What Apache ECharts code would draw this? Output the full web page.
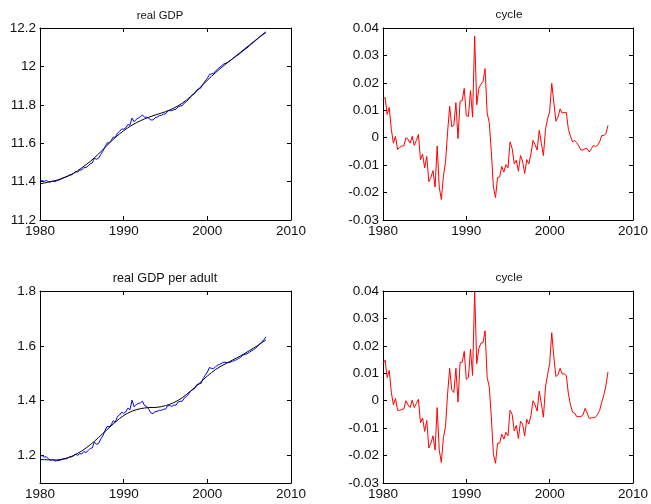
<!DOCTYPE html>
<html>
<head>
<meta charset="utf-8">
<title>real GDP and cycle</title>
<script src="https://cdn.jsdelivr.net/npm/echarts@6/dist/echarts.min.js"></script>
<style>
  html, body { margin: 0; padding: 0; background: #fff; }
  #chart { width: 651px; height: 504px; }
</style>
</head>
<body>
<div id="chart"></div>
<script>
// Years covered by the quarterly sample (1980Q1 .. 2007Q1)
const years = [1980, 1981, 1982, 1983, 1984, 1985, 1986, 1987, 1988, 1989,
  1990, 1991, 1992, 1993, 1994, 1995, 1996, 1997, 1998, 1999,
  2000, 2001, 2002, 2003, 2004, 2005, 2006, 2007];

// Log real GDP, quarterly
const gdpSeries = [
  11.402, 11.405, 11.401, 11.406,  11.400, 11.398, 11.403, 11.400,
  11.404, 11.408, 11.412, 11.419,  11.423, 11.426, 11.434, 11.435,
  11.442, 11.451, 11.450, 11.459,  11.461, 11.473, 11.473, 11.482,
  11.493, 11.497, 11.522, 11.516,  11.522, 11.541, 11.557, 11.579,
  11.600, 11.603, 11.614, 11.632,  11.630, 11.652, 11.661, 11.674,
  11.673, 11.680, 11.697, 11.694,  11.731, 11.712, 11.724, 11.731,
  11.738, 11.747, 11.735, 11.736,  11.730, 11.721, 11.721, 11.732,
  11.736, 11.743, 11.745, 11.751,  11.753, 11.768, 11.770, 11.769,
  11.775, 11.777, 11.789, 11.794,  11.795, 11.809, 11.816, 11.828,
  11.842, 11.851, 11.859, 11.877,  11.882, 11.889, 11.909, 11.924,
  11.938, 11.958, 11.961, 11.964,  11.976, 11.988, 11.996, 12.005,
  12.014, 12.017, 12.023, 12.030,  12.039, 12.047, 12.055, 12.062,
  12.071, 12.080, 12.089, 12.096,  12.106, 12.116, 12.124, 12.133,
  12.144, 12.154, 12.163, 12.172,  12.180
];
// HP trend of log real GDP, at each year start
const gdpTrend = [
  11.388, 11.397, 11.407, 11.423, 11.443, 11.472, 11.505, 11.544, 11.588, 11.630,
  11.665, 11.694, 11.717, 11.735, 11.750, 11.764, 11.783, 11.808, 11.843, 11.884,
  11.928, 11.968, 12.005, 12.040, 12.075, 12.110, 12.145, 12.176
];
// Cyclical component of log real GDP
const gdpCycle = [
  0.0139, 0.0147, 0.0085, 0.0110,  0.0030, -0.0020, 0.0005, -0.0043,
  -0.0035, -0.0030, -0.0030, 0.0000,  -0.0005, -0.0020, 0.0005, -0.0028,
  -0.0010, 0.0012, -0.0080, -0.0060,  -0.0110, -0.0068, -0.0160, -0.0145,
  -0.0120, -0.0180, -0.0030, -0.0180,  -0.0225, -0.0140, -0.0090, 0.0020,
  0.0115, 0.0040, 0.0045, 0.0128,  -0.0003, 0.0133, 0.0135, 0.0180,
  0.0080, 0.0078, 0.0172, 0.0075,  0.0370, 0.0120, 0.0180, 0.0195,
  0.0205, 0.0252, 0.0090, 0.0055,  -0.0050, -0.0180, -0.0218, -0.0145,
  -0.0143, -0.0105, -0.0125, -0.0098,  -0.0110, -0.0015, -0.0040, -0.0095,
  -0.0082, -0.0122, -0.0065, -0.0085,  -0.0130, -0.0080, -0.0095, -0.0060,
  -0.0010, -0.0025, -0.0045, 0.0027,  -0.0020, -0.0065, 0.0030, 0.0070,
  0.0095, 0.0198, 0.0130, 0.0060,  0.0075, 0.0105, 0.0090, 0.0092,
  0.0092, 0.0030, 0.0005, -0.0015,  -0.0010, -0.0018, -0.0030, -0.0045,
  -0.0045, -0.0040, -0.0040, -0.0052,  -0.0040, -0.0028, -0.0032, -0.0028,
  -0.0015, 0.0008, 0.0008, 0.0015,  0.0045
];

// Real GDP per adult, quarterly
const perAdultSeries = [
  1.199, 1.200, 1.194, 1.196,  1.188, 1.183, 1.185, 1.181,
  1.181, 1.182, 1.184, 1.188,  1.188, 1.189, 1.195, 1.195,
  1.199, 1.205, 1.201, 1.207,  1.206, 1.215, 1.211, 1.218,
  1.226, 1.228, 1.250, 1.241,  1.244, 1.260, 1.271, 1.290,
  1.306, 1.305, 1.311, 1.327,  1.322, 1.342, 1.348, 1.358,
  1.354, 1.359, 1.373, 1.367,  1.402, 1.378, 1.386, 1.390,
  1.392, 1.398, 1.382, 1.379,  1.369, 1.356, 1.353, 1.360,
  1.361, 1.365, 1.365, 1.369,  1.369, 1.381, 1.383, 1.379,
  1.384, 1.384, 1.395, 1.398,  1.398, 1.410, 1.415, 1.424,
  1.435, 1.440, 1.445, 1.459,  1.461, 1.463, 1.481, 1.493,
  1.504, 1.521, 1.518, 1.517,  1.524, 1.530, 1.533, 1.537,
  1.541, 1.539, 1.539, 1.540,  1.544, 1.546, 1.550, 1.554,
  1.559, 1.566, 1.569, 1.571,  1.576, 1.581, 1.586, 1.591,
  1.598, 1.606, 1.614, 1.622,  1.633
];
// HP trend of real GDP per adult, at each year start
const perAdultTrend = [
  1.1855, 1.1845, 1.184, 1.189, 1.200, 1.217, 1.239, 1.266, 1.294, 1.322,
  1.346, 1.362, 1.371, 1.375, 1.376, 1.382, 1.393, 1.411, 1.435, 1.462,
  1.490, 1.514, 1.532, 1.548, 1.564, 1.582, 1.601, 1.622
];
// Cyclical component of real GDP per adult
const perAdultCycle = [
  0.0135, 0.0148, 0.0085, 0.0110,  0.0030, -0.0015, 0.0008, -0.0035,
  -0.0035, -0.0032, -0.0030, 0.0000,  -0.0015, -0.0025, 0.0002, -0.0025,
  -0.0010, 0.0005, -0.0080, -0.0063,  -0.0112, -0.0072, -0.0172, -0.0155,
  -0.0128, -0.0180, -0.0025, -0.0180,  -0.0225, -0.0135, -0.0095, 0.0025,
  0.0118, 0.0040, 0.0030, 0.0118,  -0.0005, 0.0140, 0.0140, 0.0180,
  0.0078, 0.0085, 0.0188, 0.0092,  0.0400, 0.0135, 0.0190, 0.0210,
  0.0212, 0.0255, 0.0085, 0.0050,  -0.0060, -0.0195, -0.0228, -0.0155,
  -0.0155, -0.0122, -0.0140, -0.0115,  -0.0128, -0.0035, -0.0050, -0.0110,
  -0.0090, -0.0138, -0.0075, -0.0085,  -0.0128, -0.0068, -0.0085, -0.0055,
  0.0000, -0.0015, -0.0038, 0.0035,  -0.0010, -0.0060, 0.0050, 0.0095,
  0.0135, 0.0248, 0.0160, 0.0088,  0.0095, 0.0118, 0.0098, 0.0098,
  0.0092, 0.0025, -0.0015, -0.0042,  -0.0045, -0.0058, -0.0058, -0.0058,
  -0.0052, -0.0028, -0.0045, -0.0065,  -0.0062, -0.0062, -0.0060, -0.0050,
  -0.0035, -0.0005, 0.0020, 0.0055,  0.0105
];

// Tick values
const yearTicks = [1980, 1990, 2000, 2010];
const gdpTicks = [11.2, 11.4, 11.6, 11.8, 12, 12.2];
const cycleTicks = [-0.03, -0.02, -0.01, 0, 0.01, 0.02, 0.03, 0.04];
const perAdultTicks = [1.2, 1.4, 1.6, 1.8];

// Quarter dates (fractional years), ending at 2007Q1
const quarterDates = [];
years.forEach(function (y) {
  if (y < 2007) { quarterDates.push(y, y + 0.25, y + 0.5, y + 0.75); }
  else { quarterDates.push(y); }
});
const pairs = (xs, ys) => xs.map((x, i) => [x, ys[i]]);

const FONT = "'Liberation Sans', Arial, sans-serif";
const panels = [
  { title: 'real GDP', left: 40, top: 28, yMin: 11.2, yMax: 12.2, yTicks: gdpTicks,
    tx: 160, ty: 15.5, tSize: 11.3 },
  { title: 'cycle', left: 383, top: 28, yMin: -0.03, yMax: 0.04, yTicks: cycleTicks,
    tx: 509, ty: 15, tSize: 11.8 },
  { title: 'real GDP per adult', left: 40, top: 291, yMin: 1.1, yMax: 1.8, yTicks: perAdultTicks,
    tx: 165, ty: 279, tSize: 12.6 },
  { title: 'cycle', left: 383, top: 291, yMin: -0.03, yMax: 0.04, yTicks: cycleTicks,
    tx: 509, ty: 278, tSize: 11.8 }
];
const W = 251, H = 192;

const grid = [], xAxis = [], yAxis = [], graphic = [];
const axisLine = { show: true, onZero: false, lineStyle: { color: '#000', width: 1 } };
panels.forEach(function (p, g) {
  grid.push({ left: p.left, top: p.top, width: W, height: H, containLabel: false });
  graphic.push({
    type: 'text', x: p.tx, y: p.ty, silent: true,
    style: {
      text: p.title, fill: '#111', font: 'normal ' + p.tSize + 'px ' + FONT,
      textAlign: 'center', textVerticalAlign: 'middle'
    }
  });
  // bottom and top x axes (box with inward ticks)
  [['bottom', true], ['top', false]].forEach(function (d) {
    xAxis.push({
      type: 'value', gridIndex: g, position: d[0], min: 1980, max: 2010,
      axisLine: axisLine,
      axisTick: { show: true, inside: true, length: 4, customValues: yearTicks, lineStyle: { color: '#000' } },
      axisLabel: {
        show: d[1], customValues: yearTicks, margin: 4, color: '#111', fontFamily: FONT, fontSize: 13.5,
        formatter: function (v) { return String(v); }
      },
      splitLine: { show: false }
    });
  });
  // left and right y axes
  [['left', true], ['right', false]].forEach(function (d) {
    yAxis.push({
      type: 'value', gridIndex: g, position: d[0], min: p.yMin, max: p.yMax,
      axisLine: axisLine,
      axisTick: { show: true, inside: true, length: 4, customValues: p.yTicks, lineStyle: { color: '#000' } },
      axisLabel: {
        show: d[1], customValues: p.yTicks, margin: 4, color: '#111', fontFamily: FONT, fontSize: 13.5,
        formatter: function (v) { return String(+v.toFixed(4)); }
      },
      splitLine: { show: false }
    });
  });
});

const lineBase = { type: 'line', showSymbol: false, symbol: 'none', animation: false, silent: true };
const series = [
  Object.assign({}, lineBase, { xAxisIndex: 0, yAxisIndex: 0, data: pairs(quarterDates, gdpSeries), lineStyle: { color: '#0000ff', width: 1 } }),
  Object.assign({}, lineBase, { xAxisIndex: 0, yAxisIndex: 0, smooth: 0.3, data: pairs(years, gdpTrend), lineStyle: { color: '#000', width: 1 } }),
  Object.assign({}, lineBase, { xAxisIndex: 2, yAxisIndex: 2, data: pairs(quarterDates, gdpCycle), lineStyle: { color: '#ff0000', width: 1 } }),
  Object.assign({}, lineBase, { xAxisIndex: 4, yAxisIndex: 4, data: pairs(quarterDates, perAdultSeries), lineStyle: { color: '#0000ff', width: 1 } }),
  Object.assign({}, lineBase, { xAxisIndex: 4, yAxisIndex: 4, smooth: 0.3, data: pairs(years, perAdultTrend), lineStyle: { color: '#000', width: 1 } }),
  Object.assign({}, lineBase, { xAxisIndex: 6, yAxisIndex: 6, data: pairs(quarterDates, perAdultCycle), lineStyle: { color: '#ff0000', width: 1 } })
];

const chart = echarts.init(document.getElementById('chart'), null, { renderer: 'canvas' });
chart.setOption({
  backgroundColor: '#fff',
  animation: false,
  graphic: graphic,
  grid: grid,
  xAxis: xAxis,
  yAxis: yAxis,
  series: series
});
</script>
</body>
</html>
